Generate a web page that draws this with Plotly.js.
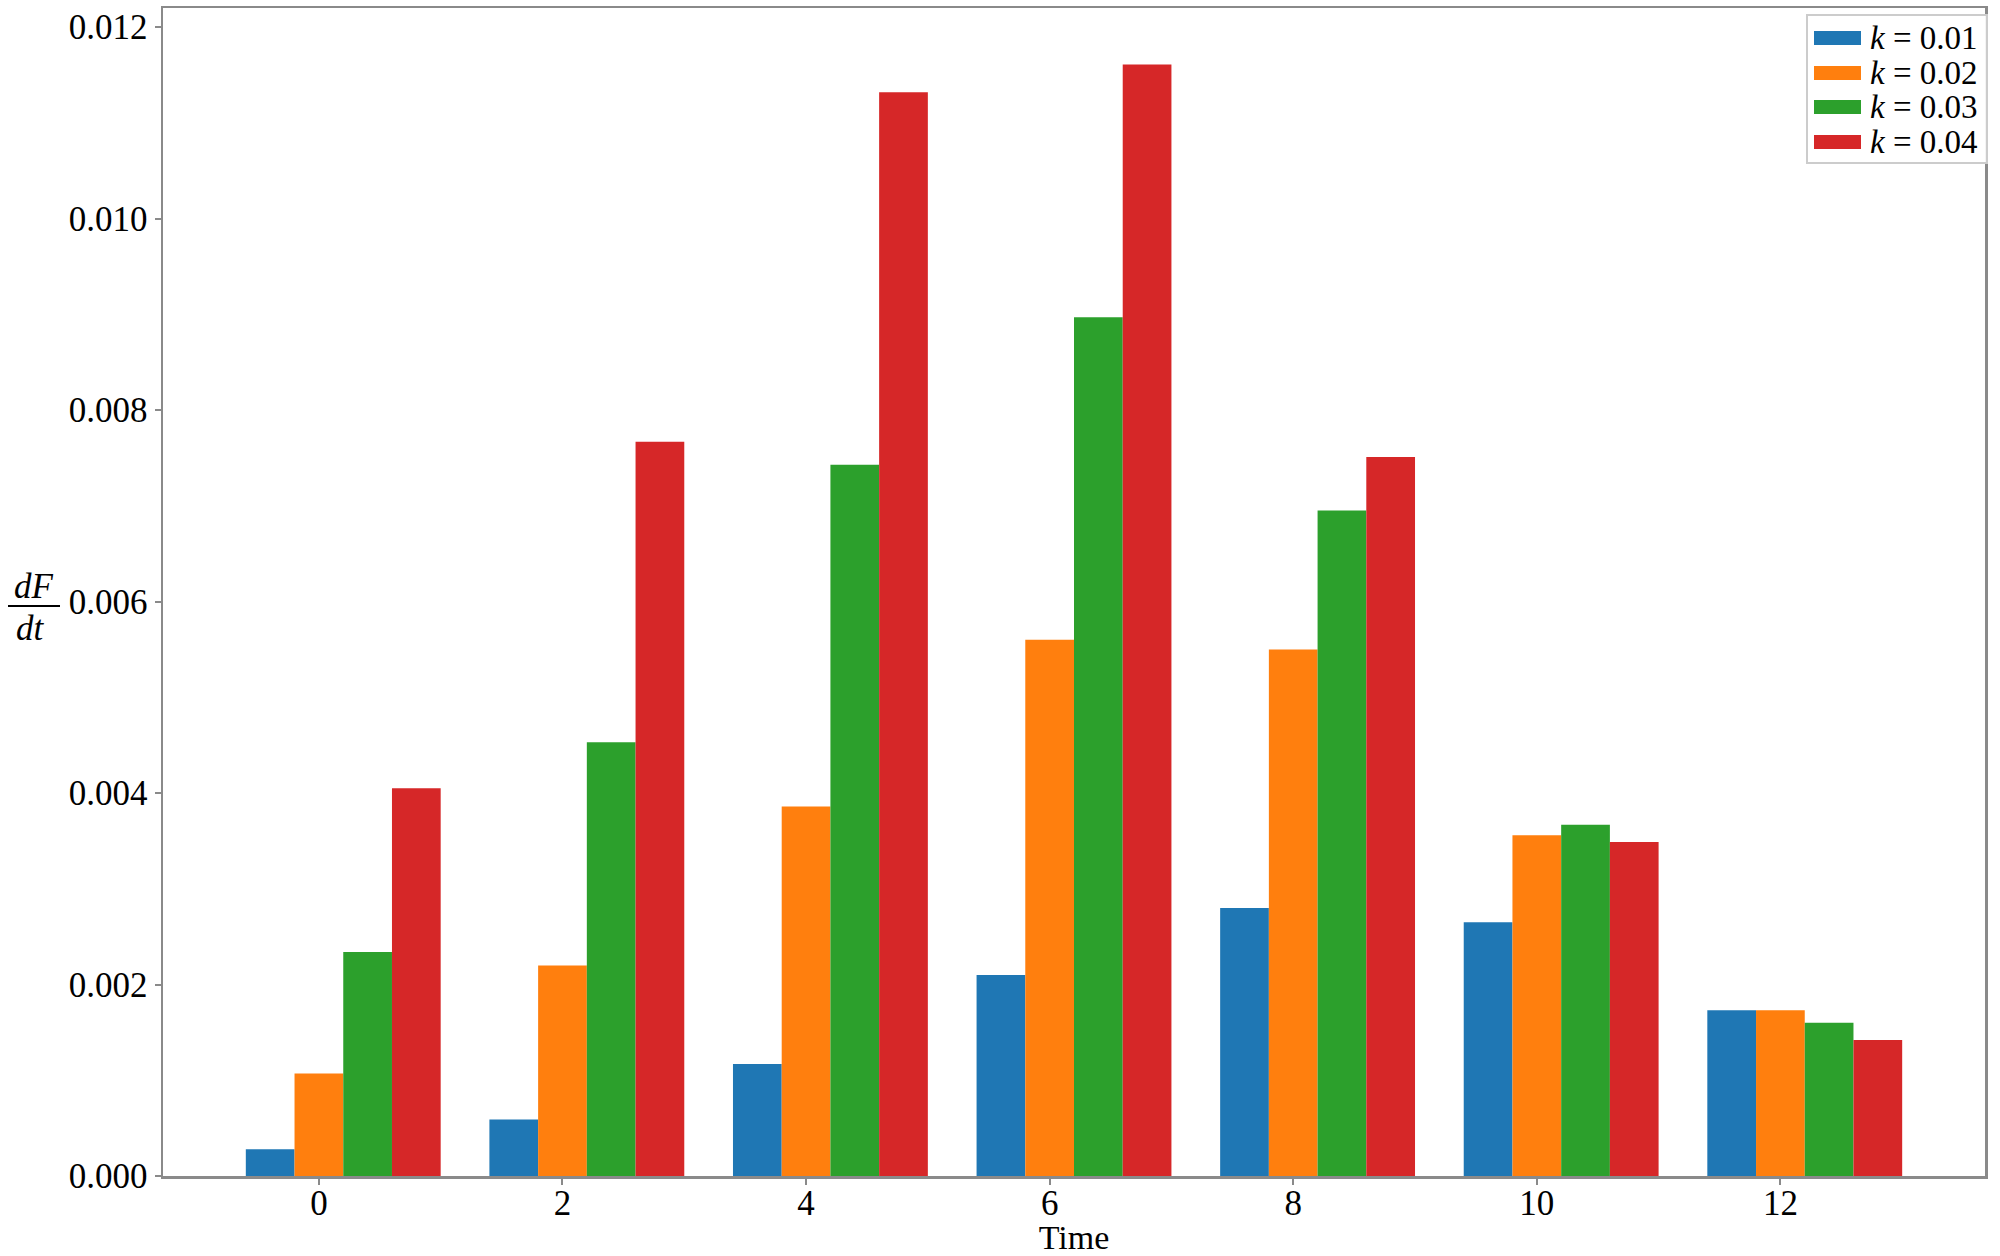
<!DOCTYPE html>
<html>
<head>
<meta charset="utf-8">
<script src="https://cdn.plot.ly/plotly-3.0.1.min.js"></script>
<style>html,body{margin:0;padding:0;background:#fff;}#chart{width:2000px;height:1256px;}</style>
</head>
<body>
<div id="chart"></div>
<script>
// ---- data ----
const times = [0, 2, 4, 6, 8, 10, 12];
const seriesNames = ['0.01', '0.02', '0.03', '0.04'];
const k001 = [0.00028, 0.00059, 0.00117, 0.00210, 0.00280, 0.00265, 0.00173];
const k002 = [0.00107, 0.00220, 0.00386, 0.00560, 0.00550, 0.00356, 0.00173];
const k003 = [0.00234, 0.00453, 0.00743, 0.00897, 0.00695, 0.00367, 0.00160];
const k004 = [0.00405, 0.00767, 0.01132, 0.01161, 0.00751, 0.00349, 0.00142];
const yTicks = [0, 0.002, 0.004, 0.006, 0.008, 0.010, 0.012];
const xTicks = [0, 2, 4, 6, 8, 10, 12];

const colors = ['#1f77b4', '#ff7f0e', '#2ca02c', '#d62728'];
const values = [k001, k002, k003, k004];
const barW = 0.4;
const offsets = [-0.6, -0.2, 0.2, 0.6];

const traces = values.map((v, i) => ({
  type: 'bar',
  x: times,
  y: v,
  width: barW,
  offset: offsets[i],
  name: 'k = ' + seriesNames[i],
  marker: {color: colors[i], line: {width: 0}},
  showlegend: false
}));

// plot area in pixels
const L = 163, R = 15, T = 8, B = 80, W = 2000, H = 1256;
const pw = W - L - R, ph = H - T - B;
const px = x => (x - L) / pw;
const py = y => (H - B - y) / ph;

const font = 'Liberation Serif, Times New Roman, serif';
const shapes = [];
const annotations = [];

// y label dF/dt
annotations.push({xref: 'paper', yref: 'paper', x: px(34), y: py(586), text: '<i>dF</i>', showarrow: false,
  font: {family: font, size: 35, color: '#000'}, xanchor: 'center', yanchor: 'middle'});
annotations.push({xref: 'paper', yref: 'paper', x: px(30), y: py(628), text: '<i>dt</i>', showarrow: false,
  font: {family: font, size: 35, color: '#000'}, xanchor: 'center', yanchor: 'middle'});
shapes.push({type: 'line', xref: 'paper', yref: 'paper', x0: px(8), x1: px(60), y0: py(606), y1: py(606),
  line: {color: '#000', width: 2}});

// legend
shapes.push({type: 'rect', xref: 'paper', yref: 'paper', x0: px(1807), x1: px(1987), y0: py(15), y1: py(163),
  line: {color: '#cccccc', width: 2}, fillcolor: 'rgba(255,255,255,0.9)', layer: 'above'});
const rowY = [38, 73, 107, 142];
seriesNames.forEach((n, i) => {
  shapes.push({type: 'rect', xref: 'paper', yref: 'paper', x0: px(1814), x1: px(1861),
    y0: py(rowY[i] - 7), y1: py(rowY[i] + 7), line: {width: 0}, fillcolor: colors[i], layer: 'above'});
  annotations.push({xref: 'paper', yref: 'paper', x: px(1868), y: py(rowY[i]), text: '<i>k</i> = ' + n,
    showarrow: false, xanchor: 'left', yanchor: 'middle', font: {family: font, size: 33, color: '#000'}});
});

const axisCommon = {
  showgrid: false, zeroline: false, showline: true, mirror: true,
  linecolor: '#8a8a8a', linewidth: 2.5,
  ticks: 'outside', ticklen: 6, tickwidth: 2, tickcolor: '#8a8a8a',
  tickfont: {family: font, size: 35, color: '#000'}
};

const layout = {
  width: W, height: H,
  margin: {l: L, r: R, t: T, b: B, pad: 0},
  paper_bgcolor: '#fff', plot_bgcolor: '#fff',
  barmode: 'overlay',
  showlegend: false,
  xaxis: Object.assign({}, axisCommon, {
    range: [-1.28, 13.68], tickmode: 'array', tickvals: xTicks, ticktext: xTicks.map(String),
    ticklabelstandoff: -12,
    title: {text: 'Time', font: {family: font, size: 34, color: '#000'}, standoff: 6}
  }),
  yaxis: Object.assign({}, axisCommon, {
    range: [0, 0.0122], tickmode: 'array', tickvals: yTicks, ticktext: yTicks.map(v => v.toFixed(3))
  }),
  shapes: shapes,
  annotations: annotations
};

Plotly.newPlot('chart', traces, layout, {displayModeBar: false, staticPlot: true});
</script>
</body>
</html>
